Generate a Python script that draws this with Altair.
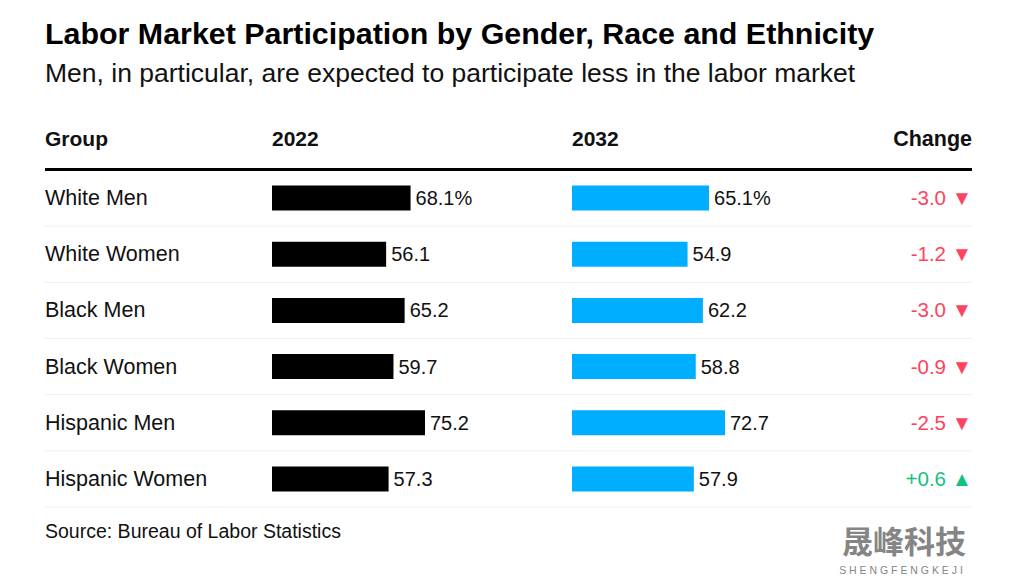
import altair as alt
import pandas as pd

groups = ["White Men", "White Women", "Black Men", "Black Women", "Hispanic Men", "Hispanic Women"]
v2022 = [68.1, 56.1, 65.2, 59.7, 75.2, 57.3]
v2032 = [65.1, 54.9, 62.2, 58.8, 72.7, 57.9]
change = [-3.0, -1.2, -3.0, -0.9, -2.5, 0.6]

headers = ["Group", "2022", "2032", "Change"]
title_text = "Labor Market Participation by Gender, Race and Ethnicity"
subtitle_text = "Men, in particular, are expected to participate less in the labor market"
source_text = "Source: Bureau of Labor Statistics"

FONT = "Liberation Sans, Arial, Helvetica, sans-serif"
W, H = 927, 337

def fmt(v, first):
    s = f"{v:.1f}"
    return s + "%" if first else s

df = pd.DataFrame({
    "group": groups,
    "v2022": v2022,
    "v2032": v2032,
    "change": change,
})
df["lab2022"] = [fmt(v, i == 0) for i, v in enumerate(v2022)]
df["lab2032"] = [fmt(v, i == 0) for i, v in enumerate(v2032)]
df["chg"] = [(f"+{c:.1f} ▲" if c > 0 else f"{c:.1f} ▼") for c in change]
df["dir"] = ["up" if c > 0 else "down" for c in change]

base = alt.Chart(df)
yenc = alt.Y("group:N", sort=groups,
             scale=alt.Scale(domain=groups, paddingInner=0, paddingOuter=0),
             axis=None)

x22 = alt.Scale(domain=[0, max(v2022)], range=[227, 380])
x32 = alt.Scale(domain=[0, max(v2032)], range=[527, 680])

sep = base.mark_rule(color="#efefef", strokeWidth=1).encode(
    y=alt.Y("group:N", sort=groups,
            scale=alt.Scale(domain=groups, paddingInner=0, paddingOuter=0),
            axis=None, bandPosition=1),
    x=alt.value(0), x2=alt.value(W),
)

names = base.mark_text(align="left", baseline="middle", font=FONT, fontSize=21.5,
                       color="#111111", dy=1).encode(
    y=yenc, x=alt.value(0), text="group:N")

bars22 = base.mark_bar(color="#000000", size=25).encode(
    y=yenc, x=alt.X("v2022:Q", scale=x22, axis=None))
lab22 = base.mark_text(align="left", baseline="middle", dx=5, dy=1, font=FONT, fontSize=20,
                       color="#111111").encode(
    y=yenc, x=alt.X("v2022:Q", scale=x22, axis=None), text="lab2022:N")

bars32 = base.mark_bar(color="#00aeff", size=25).encode(
    y=yenc, x=alt.X("v2032:Q", scale=x32, axis=None))
lab32 = base.mark_text(align="left", baseline="middle", dx=5, dy=1, font=FONT, fontSize=20,
                       color="#111111").encode(
    y=yenc, x=alt.X("v2032:Q", scale=x32, axis=None), text="lab2032:N")

chg = base.mark_text(align="right", baseline="middle", font=FONT, fontSize=20.5, dy=1).encode(
    y=yenc, x=alt.value(W), text="chg:N",
    color=alt.Color("dir:N", scale=alt.Scale(domain=["down", "up"],
                                             range=["#ff4260", "#14c17f"]), legend=None))

hdf = pd.DataFrame({"h": headers, "pos": [0, 227, 527, W], "al": ["l", "l", "l", "r"]})
hdr_left = alt.Chart(hdf[hdf.al == "l"]).mark_text(
    align="left", baseline="middle", font=FONT, fontSize=21, fontWeight="bold",
    color="#111111").encode(x=alt.X("pos:Q", scale=None), y=alt.value(-30), text="h:N")
hdr_right = alt.Chart(hdf[hdf.al == "r"]).mark_text(
    align="right", baseline="middle", font=FONT, fontSize=21.5, fontWeight="bold",
    color="#111111").encode(x=alt.X("pos:Q", scale=None), y=alt.value(-30), text="h:N")

top_rule = base.mark_rule(color="#000000", strokeWidth=3).encode(
    x=alt.value(0), x2=alt.value(W), y=alt.value(-0.5))

source = alt.Chart(pd.DataFrame({"t": [source_text]})).mark_text(
    align="left", baseline="middle", font=FONT, fontSize=19.5, color="#111111").encode(
    x=alt.value(0), y=alt.value(362), text="t:N")

wm = alt.Chart(pd.DataFrame({"t": ["晟峰科技"]})).mark_text(
    align="center", baseline="middle", font="Noto Sans CJK SC", fontSize=31,
    fontWeight="bold", color="#858585").encode(
    x=alt.value(859), y=alt.value(374), text="t:N")
wm2 = alt.Chart(pd.DataFrame({"t": ["S H E N G F E N G K E J I"]})).mark_text(
    align="center", baseline="middle", font=FONT, fontSize=10.5, color="#858585").encode(
    x=alt.value(856), y=alt.value(401), text="t:N")

chart = alt.layer(
    sep, top_rule, names, bars22, lab22, bars32, lab32, chg, hdr_left, hdr_right, source, wm, wm2
).resolve_scale(x="independent").properties(
    width=W, height=H,
    title=alt.TitleParams(
        text=title_text, subtitle=subtitle_text, anchor="start", frame="group",
        font=FONT, fontSize=30.4, fontWeight="bold", color="#000000",
        subtitleFont=FONT, subtitleFontSize=26.5, subtitleColor="#111111",
        subtitlePadding=10, offset=42,
    ),
    padding={"left": 37, "top": 162, "right": 40, "bottom": 70},
    autosize=alt.AutoSizeParams(type="none"),
).configure_view(stroke=None)

chart.save("out.html", embed_options={"renderer": "svg", "actions": False})
